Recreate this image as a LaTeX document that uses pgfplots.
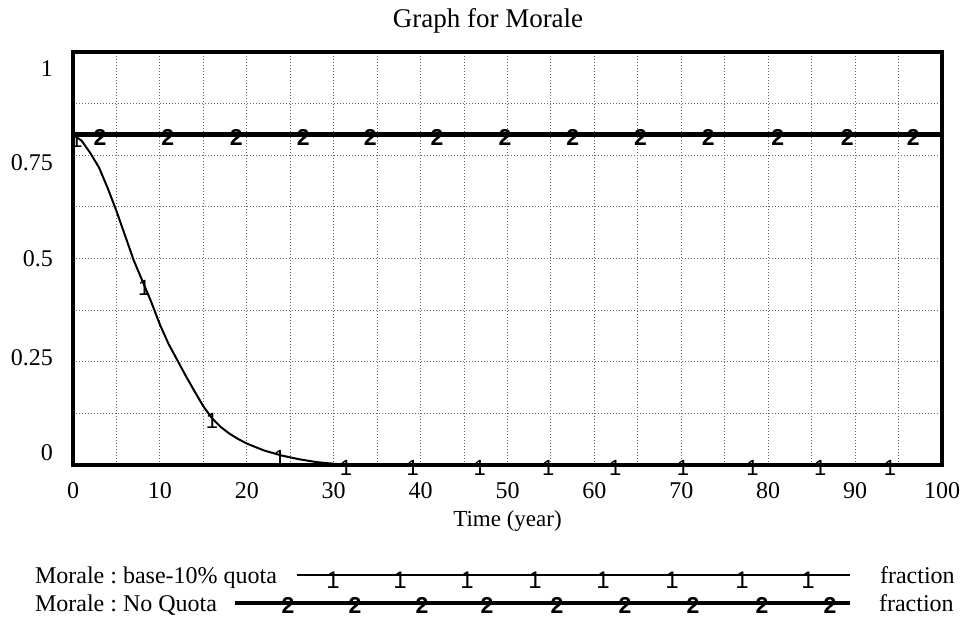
\documentclass[border=0pt]{standalone}
\usepackage{fontspec}
\setmainfont{Liberation Serif}
\newfontfamily\markfont{Liberation Sans}
\usepackage{pgfplots}
\pgfplotsset{compat=1.18}
\usepackage{pgfplotstable}
\frenchspacing

\pgfplotstableread{
t v
0 0.80
1 0.785
2 0.755
3 0.72
4 0.67
5 0.615
6 0.555
7 0.495
8 0.445
9 0.395
10 0.34
11 0.293
12 0.254
13 0.215
14 0.178
15 0.142
16 0.113
17 0.092
18 0.076
19 0.063
20 0.052
22 0.035
24 0.023
26 0.014
28 0.007
30 0.003
32 0.0
100 0.0
}\quota

\pgfplotstableread{
t v
0 0.80
100 0.80
}\noquota

\pgfplotstableread{
t v
0.4 0.795
8.2 0.435
16.0 0.113
23.8 0.024
31.4 0
39.1 0
46.8 0
54.7 0
62.4 0
70.2 0
78.2 0
86.0 0
94.0 0
}\quotamarks

\pgfplotstableread{
t v
3.1 0.80
10.9 0.80
18.8 0.80
26.5 0.80
34.2 0.80
41.9 0.80
49.7 0.80
57.5 0.80
65.3 0.80
73.1 0.80
81.1 0.80
89.1 0.80
96.7 0.80
}\noquotamarks

\begin{document}
\begin{tikzpicture}
\useasboundingbox (0,0) rectangle (480.5pt,312.5pt);
\begin{axis}[
  at={(36.5pt,80pt)}, anchor=south west,
  width=434.5pt, height=206.5pt, scale only axis,
  xmin=0, xmax=100, ymin=0, ymax=1,
  clip=false,
  axis line style={line width=2pt},
  xtick={0,10,...,100},
  minor xtick={5,15,...,95},
  xmajorgrids=true, xminorgrids=true,
  ytick={0.031,0.259,0.499,0.731,0.961},
  yticklabels={0,0.25,0.5,0.75,1},
  minor ytick={0.125,0.25,0.375,0.5,0.625,0.75,0.875},
  ymajorgrids=false, yminorgrids=true,
  major tick length=0pt, minor tick length=0pt,
  grid style={black!60, line width=0.5pt, densely dotted},
  minor grid style={black!60, line width=0.5pt, densely dotted},
  /pgf/number format/assume math mode=true,
  xticklabel style={font=\fontsize{12}{14}\selectfont, yshift=-5pt},
  yticklabel style={font=\fontsize{12}{14}\selectfont, xshift=-6.5pt},
  xlabel={Time (year)},
  xlabel style={at={(axis description cs:0.5,0)}, anchor=center, yshift=-28pt, font=\fontsize{11.5}{13}\selectfont},
]
\addplot[black, line width=2.2pt] table[x=t,y=v] {\noquota};
\addplot[black, line width=1pt] table[x=t,y=v] {\quota};
\addplot[only marks, mark=text, text mark={2}, text mark as node=true,
  text mark style={font=\markfont\bfseries\fontsize{11.5}{13}\selectfont, inner sep=0pt, yshift=-1.25pt}]
  table[x=t,y=v] {\noquotamarks};
\addplot[only marks, mark=text, text mark={1}, text mark as node=true,
  text mark style={font=\markfont\fontsize{11}{13}\selectfont, inner sep=0pt, yshift=-1.5pt}]
  table[x=t,y=v] {\quotamarks};
\end{axis}

\begin{axis}[
  at={(0,0)}, anchor=south west,
  width=480.5pt, height=312.5pt, scale only axis,
  xmin=0, xmax=961, ymin=0, ymax=625, y dir=reverse,
  hide axis, clip=false,
]
\node[anchor=base, font=\fontsize{13.5}{16}\selectfont] at (axis cs:488,28) {Graph for Morale};
\node[anchor=base west, font=\fontsize{12}{14}\selectfont] at (axis cs:28,583) {Morale : base-10\% quota};
\node[anchor=base west, font=\fontsize{12}{14}\selectfont] at (axis cs:28,611) {Morale : No Quota};
\node[anchor=base west, font=\fontsize{12}{14}\selectfont] at (axis cs:873,583) {fraction};
\node[anchor=base west, font=\fontsize{12}{14}\selectfont] at (axis cs:872,611) {fraction};
\addplot[black, line width=1pt] coordinates {(297,575) (850,575)};
\addplot[black, line width=2.2pt] coordinates {(235,603) (850,603)};
\addplot[only marks, mark=text, text mark={1}, text mark as node=true,
  text mark style={font=\markfont\fontsize{12}{14}\selectfont, inner sep=0pt, yshift=-2.5pt}]
  coordinates {(333,575) (400,575) (467,575) (535,575) (603,575) (672,575) (742,575) (808,575)};
\addplot[only marks, mark=text, text mark={2}, text mark as node=true,
  text mark style={font=\markfont\bfseries\fontsize{11.5}{13}\selectfont, inner sep=0pt, yshift=-1.25pt}]
  coordinates {(288,603) (355,603) (422,603) (487,603) (557,603) (625,603) (693,603) (762,603) (830,603)};
\end{axis}
\end{tikzpicture}
\end{document}
